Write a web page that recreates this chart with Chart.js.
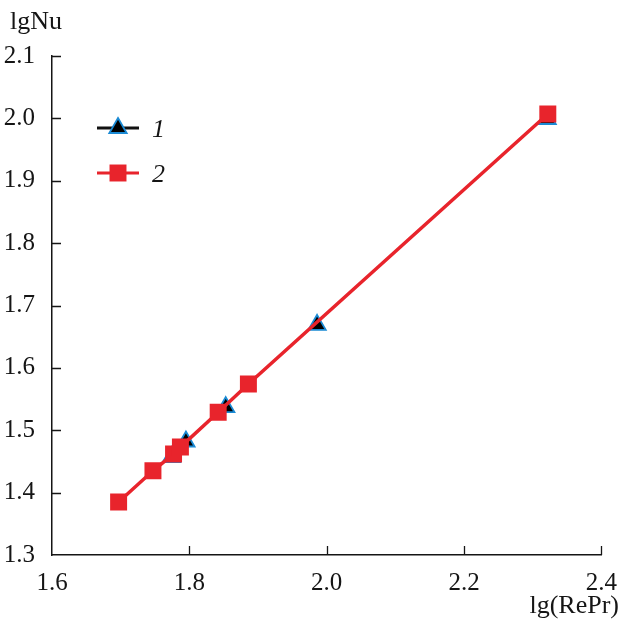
<!DOCTYPE html>
<html lang="en">
<head>
  <meta charset="UTF-8">
  <title>lgNu vs lg(RePr)</title>
  <script src="https://cdn.jsdelivr.net/npm/chart.js"></script>
  <style>
    html, body { margin: 0; padding: 0; background: #fff; }
    #wrap { width: 622px; height: 622px; }
  </style>
</head>
<body>
  <div id="wrap"><canvas id="nuChart" width="622" height="622"></canvas></div>

  <script>
    // series 1: triangles
    const s1X = [1.774, 1.795, 1.853, 1.986, 2.321];
    const s1Y = [1.457, 1.482, 1.537, 1.669, 1.999];
    // series 2: squares
    const s2X = [1.697, 1.747, 1.777, 1.787, 1.842, 1.886, 2.322];
    const s2Y = [1.385, 1.435, 1.462, 1.473, 1.529, 1.574, 2.007];

    const xTicks = [1.6, 1.8, 2.0, 2.2, 2.4];
    const yTicks = [1.3, 1.4, 1.5, 1.6, 1.7, 1.8, 1.9, 2.0, 2.1];
    const legendLabels = ["1", "2"];
    const legendLineColors = ["#111", "#e8242c"];

    const RED = "#e8242c";
    const BLUE = "#1a8ad4";
    const FONT = "'Liberation Serif', serif";
    const INK = "#151515";

    const pts = (xs, ys) => xs.map((x, i) => ({ x: x, y: ys[i] }));

    // inward tick marks, axis titles and the in-plot legend
    const decor = {
      id: "decor",
      afterDraw(chart) {
        const ctx = chart.ctx;
        const xs = chart.scales.x, ys = chart.scales.y;
        const a = chart.chartArea;
        ctx.save();
        ctx.strokeStyle = INK;
        ctx.lineWidth = 1.3;
        ctx.beginPath();
        xTicks.slice(1).forEach(v => {
          const px = Math.round(xs.getPixelForValue(v)) + 0.5;
          ctx.moveTo(px, a.bottom); ctx.lineTo(px, a.bottom - 9);
        });
        yTicks.slice(1).forEach(v => {
          const py = Math.round(ys.getPixelForValue(v)) + 0.5;
          ctx.moveTo(a.left, py); ctx.lineTo(a.left + 9, py);
        });
        ctx.stroke();

        ctx.fillStyle = INK;
        ctx.font = "26px " + FONT;
        ctx.textBaseline = "alphabetic";
        ctx.textAlign = "left";
        ctx.fillText("lgNu", 10, 29);
        ctx.textAlign = "right";
        ctx.fillText("lg(RePr)", 619, 613);

        // legend
        const rows = [128, 173];
        chart.data.datasets.forEach((ds, i) => {
          const y = rows[i];
          ctx.strokeStyle = legendLineColors[i];
          ctx.lineWidth = 3;
          ctx.beginPath();
          ctx.moveTo(97, y); ctx.lineTo(139, y);
          ctx.stroke();
          ctx.fillStyle = ds.pointBackgroundColor;
          ctx.strokeStyle = ds.pointBorderColor;
          ctx.lineWidth = ds.pointBorderWidth;
          Chart.helpers.drawPoint(ctx, {
            pointStyle: ds.pointStyle,
            radius: ds.pointRadius,
            borderWidth: ds.pointBorderWidth
          }, 118, y);
          ctx.fillStyle = INK;
          ctx.font = "italic 26px " + FONT;
          ctx.textAlign = "left";
          ctx.fillText(legendLabels[i], 152, y + 9);
        });
        ctx.restore();
      }
    };

    new Chart(document.getElementById("nuChart"), {
      type: "scatter",
      data: {
        datasets: [
          {
            label: legendLabels[0],
            data: pts(s1X, s1Y),
            showLine: false,
            borderColor: "#111",
            borderWidth: 2.5,
            pointStyle: "triangle",
            pointRadius: 10,
            pointBackgroundColor: "#000",
            pointBorderColor: BLUE,
            pointBorderWidth: 1.8,
            order: 2
          },
          {
            label: legendLabels[1],
            data: pts(s2X, s2Y),
            showLine: true,
            borderColor: RED,
            borderWidth: 3.5,
            pointStyle: "rect",
            pointRadius: 12,
            pointBackgroundColor: RED,
            pointBorderColor: RED,
            pointBorderWidth: 0,
            order: 1
          }
        ]
      },
      options: {
        responsive: false,
        animation: false,
        layout: { padding: { top: 56, right: 19, left: 0, bottom: 0 } },
        plugins: { legend: { display: false }, tooltip: { enabled: false } },
        scales: {
          x: {
            type: "linear",
            min: 1.6, max: 2.4,
            afterBuildTicks: s => { s.ticks = xTicks.map(v => ({ value: v })); },
            afterFit: s => { s.height = 67; },
            grid: { display: false },
            border: { display: true, color: INK, width: 1.5 },
            ticks: {
              color: INK, padding: 5,
              font: { family: FONT, size: 25 },
              callback: v => v.toFixed(1)
            }
          },
          y: {
            type: "linear",
            min: 1.3, max: 2.1,
            afterBuildTicks: s => { s.ticks = yTicks.map(v => ({ value: v })); },
            afterFit: s => { s.width = 52; },
            grid: { display: false },
            border: { display: true, color: INK, width: 1.5 },
            ticks: {
              color: INK, padding: 9,
              font: { family: FONT, size: 25 },
              callback: v => v.toFixed(1)
            }
          }
        }
      },
      plugins: [decor]
    });
  </script>
</body>
</html>
